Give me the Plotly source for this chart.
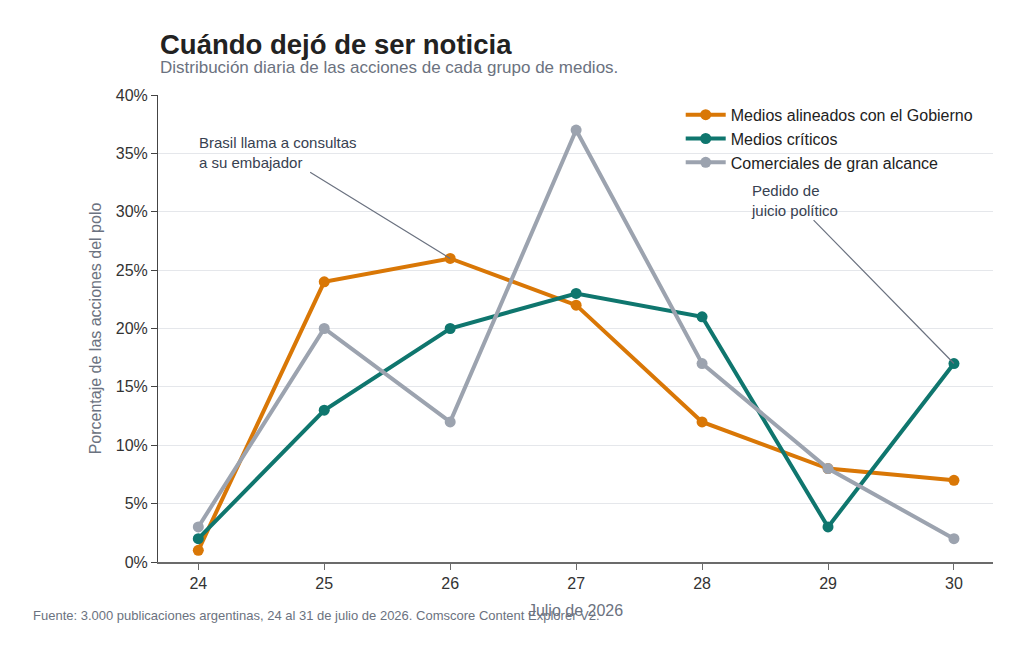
import plotly.graph_objects as go

# datos
dias = [24, 25, 26, 27, 28, 29, 30]
alineados = [1, 24, 26, 22, 12, 8, 7]
criticos = [2, 13, 20, 23, 21, 3, 17]
comerciales = [3, 20, 12, 37, 17, 8, 2]

series = [
    ("Medios alineados con el Gobierno", alineados, "#D97706"),
    ("Medios críticos", criticos, "#0F766E"),
    ("Comerciales de gran alcance", comerciales, "#9CA3AF"),
]

FONT = "Liberation Sans, Arial, sans-serif"
GRIS = "#6B7280"

fig = go.Figure()
for nombre, vals, color in series:
    fig.add_trace(go.Scatter(
        x=dias, y=vals, name=nombre, mode="lines+markers",
        line=dict(color=color, width=4),
        marker=dict(color=color, size=11),
    ))

# anotaciones con linea guia
fig.add_annotation(
    x=26, y=26, ax=24.63, ay=35.1, axref="x", ayref="y",
    text="Brasil llama a consultas<br>a su embajador",
    showarrow=True, arrowhead=0, arrowwidth=1.2, arrowcolor=GRIS,
    align="left", font=dict(size=15, color="#374151", family=FONT),
)
fig.add_annotation(
    x=30, y=17, ax=28.73, ay=31.0, axref="x", ayref="y",
    text="Pedido de<br>juicio político",
    showarrow=True, arrowhead=0, arrowwidth=1.2, arrowcolor=GRIS,
    align="left", font=dict(size=15, color="#374151", family=FONT),
)

# titulo, subtitulo y fuente
fig.add_annotation(
    text="<b>Cuándo dejó de ser noticia</b>",
    xref="paper", yref="paper", x=0.0, y=1.109, xanchor="left", yanchor="middle",
    showarrow=False, font=dict(size=27.5, color="#222222", family=FONT),
)
fig.add_annotation(
    text="Distribución diaria de las acciones de cada grupo de medios.",
    xref="paper", yref="paper", x=0.0, y=1.058, xanchor="left", yanchor="middle",
    showarrow=False, font=dict(size=17, color=GRIS, family=FONT),
)
fig.add_annotation(
    text="Fuente: 3.000 publicaciones argentinas, 24 al 31 de julio de 2026. Comscore Content Explorer V2.",
    xref="paper", yref="paper", x=-0.152, y=-0.1135, xanchor="left", yanchor="middle",
    showarrow=False, font=dict(size=13, color=GRIS, family=FONT),
)

fig.update_layout(
    width=1024, height=655,
    margin=dict(l=150, r=39, t=87, b=101),
    paper_bgcolor="white", plot_bgcolor="white",
    font=dict(family=FONT, color="#222222"),
    showlegend=True,
    legend=dict(
        x=0.626, y=0.994, xanchor="left", yanchor="top",
        font=dict(size=16, color="#222222", family=FONT),
        bgcolor="rgba(255,255,255,0)", itemwidth=40, tracegroupgap=0,
    ),
    xaxis=dict(
        range=[23.68, 30.31], tickvals=dias, showgrid=False,
        showline=True, linecolor="#6B6B6B", linewidth=2,
        ticks="outside", ticklen=6, tickcolor="#6B6B6B",
        tickfont=dict(size=16, color="#333333"),
        title=dict(text="Julio de 2026", font=dict(size=16, color=GRIS), standoff=14),
        zeroline=False,
    ),
    yaxis=dict(
        range=[0, 40], dtick=5, ticksuffix="%",
        showgrid=True, gridcolor="#E5E7EB", gridwidth=1,
        showline=True, linecolor="#444444", linewidth=1,
        ticks="outside", ticklen=6, tickcolor="#444444",
        tickfont=dict(size=16, color="#333333"),
        title=dict(text="Porcentaje de las acciones del polo", font=dict(size=16, color=GRIS), standoff=10),
        zeroline=False,
    ),
)

fig.write_html("out.html")
